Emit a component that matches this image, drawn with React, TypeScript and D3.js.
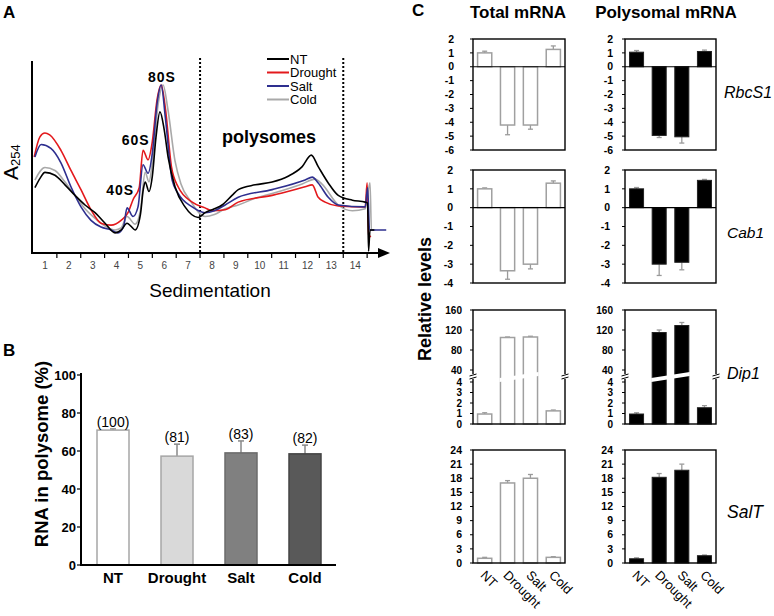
import React from 'react';
import * as d3 from 'd3';

type Pt = [number, number];

// ---------- Panel A data (fraction number, absorbance in arbitrary units) ----------
const fractionLabels = ['1', '2', '3', '4', '5', '6', '7', '8', '9', '10', '11', '12', '13', '14'];
const dottedFractions = [7, 13];

const traceNT: Pt[] = [
  [0.08, 34], [0.3, 39], [0.5, 42], [0.92, 40.5], [1.34, 35.5], [1.76, 30], [2.18, 25], [2.6, 21], [3.02, 15.5],
  [3.44, 10.5], [3.7, 12], [3.94, 15.5], [4.1, 14], [4.28, 12], [4.5, 20], [4.62, 33], [4.7, 37], [4.86, 32],
  [5.0, 40], [5.15, 60], [5.32, 73.5], [5.5, 64], [5.66, 50], [5.95, 34.5], [6.37, 24], [6.92, 18.5], [7.21, 21],
  [7.6, 23], [7.92, 25], [8.34, 30], [8.6, 33], [9.31, 35.5], [10.02, 37], [10.69, 40], [11.28, 45], [11.66, 51],
  [11.95, 45], [12.37, 36.5], [12.79, 30], [13.38, 27.5], [13.92, 26.5], [14.02, 26], [14.06, 1], [14.12, 12], [14.3, 12],
];
const traceDrought: Pt[] = [
  [0.05, 50], [0.29, 60.5], [0.5, 62.5], [0.7, 61.5], [1.17, 53.5], [1.59, 43], [2.01, 33], [2.43, 22.5], [2.85, 15.5],
  [3.27, 14.5], [3.69, 17], [3.98, 21], [4.2, 28], [4.45, 34], [4.61, 53.5], [4.82, 48.5], [5.0, 58], [5.2, 80],
  [5.37, 87.5], [5.55, 75], [5.8, 45], [6.08, 34.5], [6.67, 26.5], [7.21, 23.5], [7.5, 22], [8.05, 22.5], [8.6, 26.5],
  [10.02, 30], [11.4, 34.5], [11.7, 35.5], [11.95, 29], [12.24, 26.5], [12.79, 24.5], [13.92, 24], [14.0, 36.5],
  [14.06, 8], [14.15, 9],
];
const traceSalt: Pt[] = [
  [0.08, 50], [0.34, 56.5], [0.75, 54.5], [1.17, 47], [1.59, 34.5], [2.01, 24], [2.43, 17], [2.85, 13.5], [3.27, 12],
  [3.56, 10.5], [3.8, 14], [3.94, 23.5], [4.19, 19], [4.4, 24], [4.61, 46], [4.82, 41.5], [5.0, 52], [5.2, 78],
  [5.37, 87.5], [5.55, 70], [5.83, 38], [6.08, 31], [6.67, 24], [7.21, 21], [7.6, 22], [8.05, 25], [8.6, 29],
  [10.02, 33], [11.4, 38], [11.7, 39.5], [11.95, 36.5], [12.37, 29], [12.79, 25], [13.92, 24], [14.02, 34],
  [14.1, 12], [14.8, 12],
];
const traceCold: Pt[] = [
  [0.08, 38], [0.5, 44.5], [0.92, 43], [1.34, 37], [1.76, 30], [2.18, 23], [2.6, 18], [3.02, 14], [3.44, 12],
  [3.69, 13], [3.94, 19], [4.28, 15], [4.5, 22], [4.7, 42], [4.86, 37], [5.0, 47], [5.25, 78], [5.45, 87.5],
  [5.65, 75], [5.95, 48], [6.2, 36], [6.6, 27], [7.21, 19], [7.6, 20], [8.05, 23], [8.6, 25], [9.31, 28.5],
  [10.02, 31], [11.28, 36], [11.82, 38.5], [12.1, 36], [12.79, 25], [13.38, 22], [13.92, 23], [14.12, 36.5],
  [14.18, 12], [14.35, 12],
];
const legendNames = ['NT', 'Drought', 'Salt', 'Cold'];
const traceColors = ['#000000', '#e3191c', '#2e2f8f', '#a9a9a9'];
const peakLabels = ['40S', '60S', '80S'];
const peakPositions: Pt[] = [[3.65, 30], [4.3, 56], [5.4, 89]];

// ---------- Panel B data ----------
const conditions = ['NT', 'Drought', 'Salt', 'Cold'];
const polysomePct = [71, 57.3, 59, 58.5];
const polysomeErr = [0.6, 6.3, 6.3, 4.6];
const polysomeRel = ['(100)', '(81)', '(83)', '(82)'];
const pctTicks = [0, 20, 40, 60, 80, 100];
const barFillsB = ['#ffffff', '#d9d9d9', '#808080', '#595959'];
const barStrokesB = ['#a6a6a6', '#a6a6a6', '#6b6b6b', '#444444'];

// ---------- Panel C data ----------
const genes = ['RbcS1', 'Cab1', 'Dip1', 'SalT'];

const rbcsTotal = [1.0, -4.2, -4.2, 1.25];
const rbcsTotalErr = [0.12, 0.7, 0.3, 0.25];
const rbcsPoly = [1.05, -4.95, -5.05, 1.1];
const rbcsPolyErr = [0.12, 0.15, 0.45, 0.1];
const rbcsTicks = [2, 1, 0, -1, -2, -3, -4, -5, -6];

const cabTotal = [1.0, -3.35, -3.0, 1.3];
const cabTotalErr = [0.05, 0.45, 0.25, 0.12];
const cabPoly = [1.0, -3.0, -2.9, 1.45];
const cabPolyErr = [0.07, 0.6, 0.4, 0.05];
const cabTicks = [2, 1, 0, -1, -2, -3, -4];

const dipTotal = [0.95, 105, 106, 1.25];
const dipTotalErr = [0.12, 1.0, 1.5, 0.08];
const dipPoly = [0.95, 115, 129, 1.55];
const dipPolyErr = [0.12, 5, 6, 0.2];
const dipTicks = [160, 120, 80, 40, 4, 3, 2, 1, 0];

const saltTotal = [1.0, 17.0, 18.0, 1.2];
const saltTotalErr = [0.2, 0.5, 0.8, 0.15];
const saltPoly = [0.9, 18.2, 19.7, 1.55];
const saltPolyErr = [0.2, 0.8, 1.3, 0.15];
const saltTicks = [24, 21, 18, 15, 12, 9, 6, 3, 0];

const FONT = 'Arial, "Liberation Sans", sans-serif';

function PanelA() {
  const x = d3.scaleLinear().domain([0, 15]).range([33, 391]);
  const y = d3.scaleLinear().domain([0, 100]).range([253, 61]);
  const line = d3.line<Pt>().x(d => x(d[0])).y(d => y(d[1])).curve(d3.curveMonotoneX);
  const traces = [traceNT, traceDrought, traceSalt, traceCold];
  const drawOrder = [3, 1, 2, 0];
  const legY = [59, 72.5, 86, 99.5];
  return (
    <g fontFamily={FONT}>
      <text x={3} y={18} fontSize={17} fontWeight="bold">A</text>
      {dottedFractions.map(f => (
        <line key={f} x1={x(f)} x2={x(f)} y1={58} y2={253} stroke="#000" strokeWidth={2} strokeDasharray="2,2" />
      ))}
      {drawOrder.map(i => (
        <path key={i} d={line(traces[i]) || ''} fill="none" stroke={traceColors[i]} strokeWidth={1.6} strokeLinejoin="round" />
      ))}
      <line x1={32} x2={32} y1={61} y2={254} stroke="#000" strokeWidth={2} />
      <line x1={31} x2={380} y1={253} y2={253} stroke="#000" strokeWidth={2} />
      <path d="M378,248 L390,253 L378,258 Z" fill="#000" />
      {fractionLabels.map((l, i) => (
        <g key={l}>
          <line x1={x(i + 1)} x2={x(i + 1)} y1={253} y2={258} stroke="#000" strokeWidth={1.2} />
          <text x={x(i + 0.5)} y={269} fontSize={10} fill="#444" textAnchor="middle">{l}</text>
        </g>
      ))}
      <text x={210} y={297} fontSize={19} textAnchor="middle">Sedimentation</text>
      <text transform="translate(18,180) rotate(-90)" fontSize={21}>
        A<tspan fontSize={13} dy={2}>254</tspan>
      </text>
      {peakLabels.map((l, i) => (
        <text key={l} x={x(peakPositions[i][0])} y={y(peakPositions[i][1])} fontSize={14} fontWeight="bold" textAnchor="middle" letterSpacing={1}>{l}</text>
      ))}
      <text x={269} y={143} fontSize={18} fontWeight="bold" textAnchor="middle">polysomes</text>
      {legendNames.map((n, i) => (
        <g key={n}>
          <line x1={267} x2={289} y1={legY[i]} y2={legY[i]} stroke={traceColors[i]} strokeWidth={2} />
          <text x={290} y={legY[i]} dy="0.35em" fontSize={13}>{n}</text>
        </g>
      ))}
    </g>
  );
}

function PanelB() {
  const x = d3.scaleBand<string>().domain(conditions).range([81, 337]).paddingInner(0.5).paddingOuter(0.25);
  const y = d3.scaleLinear().domain([0, 100]).range([565, 375]);
  const bw = x.bandwidth();
  return (
    <g fontFamily={FONT}>
      <text x={3} y={356} fontSize={17} fontWeight="bold">B</text>
      {conditions.map((c, i) => {
        const x0 = x(c) as number;
        const cx = x0 + bw / 2;
        const top = y(polysomePct[i] + polysomeErr[i]);
        return (
          <g key={c}>
            <line x1={cx} x2={cx} y1={y(polysomePct[i])} y2={top} stroke="#888" strokeWidth={1.5} />
            <line x1={cx - 3} x2={cx + 3} y1={top} y2={top} stroke="#888" strokeWidth={1.5} />
            <rect x={x0} y={y(polysomePct[i])} width={bw} height={y(0) - y(polysomePct[i])} fill={barFillsB[i]} stroke={barStrokesB[i]} strokeWidth={1.5} />
            <text x={cx} y={top - 2} fontSize={14} textAnchor="middle">{polysomeRel[i]}</text>
            <text x={cx} y={583} fontSize={15} fontWeight="bold" textAnchor="middle">{c}</text>
          </g>
        );
      })}
      <line x1={81} x2={81} y1={373} y2={566} stroke="#000" strokeWidth={2} />
      <line x1={80} x2={336} y1={565} y2={565} stroke="#000" strokeWidth={2} />
      {pctTicks.map(t => (
        <g key={t}>
          <line x1={77} x2={81} y1={y(t)} y2={y(t)} stroke="#000" strokeWidth={1.2} />
          <text x={76} y={y(t)} dy="0.35em" fontSize={13} fontWeight="bold" textAnchor="end">{t}</text>
        </g>
      ))}
      <text transform="translate(48,454) rotate(-90)" fontSize={18.5} fontWeight="bold" textAnchor="middle">RNA in polysome (%)</text>
    </g>
  );
}

type Row = {
  gene: string;
  total: number[]; totalErr: number[]; poly: number[]; polyErr: number[];
  ticks: number[]; top: number; bottom: number; broken: boolean;
  labelEndT: number; labelEndP: number; geneX: number; geneY: number; geneSize: number;
};

function GenePlot({ row, vals, errs, left, right, labelEnd, filled }: { row: Row; vals: number[]; errs: number[]; left: number; right: number; labelEnd: number; filled: boolean }) {
  const x = d3.scaleBand<string>().domain(conditions).range([left, right]).paddingInner(0.38).paddingOuter(0.2);
  const y = row.broken
    ? d3.scaleLinear().domain([0, 4, 40, 160]).range([row.bottom, row.bottom - 42, row.bottom - 54, row.top])
    : d3.scaleLinear().domain([d3.min(row.ticks) as number, d3.max(row.ticks) as number]).range([row.bottom, row.top]);
  const bw = x.bandwidth();
  const y0 = y(0);
  const errColor = '#9a9a9a';
  const bx1 = (x(conditions[1]) as number) - 1;
  const bx2 = (x(conditions[2]) as number) + bw + 1;
  const by = row.bottom - 46;
  const fs = row.broken ? 10 : 10.5;
  return (
    <g>
      {vals.map((v, i) => {
        const x0 = x(conditions[i]) as number;
        const cx = x0 + bw / 2;
        const s = v >= 0 ? 1 : -1;
        const ye = y(v + s * errs[i]);
        return (
          <g key={i}>
            <line x1={cx} x2={cx} y1={y(v)} y2={ye} stroke={errColor} strokeWidth={1.3} />
            <line x1={cx - 2.5} x2={cx + 2.5} y1={ye} y2={ye} stroke={errColor} strokeWidth={1.3} />
            <rect x={x0} y={Math.min(y(v), y0)} width={bw} height={Math.abs(y(v) - y0)}
              fill={filled ? '#000' : '#fff'} stroke={filled ? '#222' : '#a0a0a0'} strokeWidth={filled ? 1 : 1.5} />
          </g>
        );
      })}
      {row.broken && (
        <polygon points={`${bx1},${by + 4} ${bx2},${by - 2} ${bx2},${by - 6} ${bx1},${by}`} fill="#fff" />
      )}
      {!row.broken && y0 < row.bottom - 1 && (
        <line x1={left} x2={right} y1={y0} y2={y0} stroke="#000" strokeWidth={1.2} />
      )}
      <rect x={left} y={row.top} width={right - left} height={row.bottom - row.top} fill="none" stroke="#000" strokeWidth={1.4} />
      {row.broken && [left, right].map(bxp => (
        <g key={bxp}>
          <rect x={bxp - 4} y={by - 4} width={8} height={5} fill="#fff" />
          <line x1={bxp - 3.5} x2={bxp + 3.5} y1={by - 2} y2={by - 4} stroke="#000" strokeWidth={1} />
          <line x1={bxp - 3.5} x2={bxp + 3.5} y1={by + 1} y2={by - 1} stroke="#000" strokeWidth={1} />
        </g>
      ))}
      {row.ticks.map(t => (
        <g key={t}>
          <line x1={left - 3} x2={left} y1={y(t)} y2={y(t)} stroke="#000" strokeWidth={1} />
          <text x={labelEnd} y={y(t)} dy="0.35em" fontSize={fs} fontWeight="bold" textAnchor="end">{t}</text>
        </g>
      ))}
      {row.gene === 'SalT' && conditions.map(c => (
        <text key={c} transform={`translate(${(x(c) as number) + bw / 2 - 5},576) rotate(45)`} fontSize={13}>{c}</text>
      ))}
    </g>
  );
}

function PanelC() {
  const rows: Row[] = [
    { gene: genes[0], total: rbcsTotal, totalErr: rbcsTotalErr, poly: rbcsPoly, polyErr: rbcsPolyErr, ticks: rbcsTicks, top: 39, bottom: 150, broken: false, labelEndT: 454, labelEndP: 613, geneX: 724, geneY: 98, geneSize: 16 },
    { gene: genes[1], total: cabTotal, totalErr: cabTotalErr, poly: cabPoly, polyErr: cabPolyErr, ticks: cabTicks, top: 170, bottom: 283, broken: false, labelEndT: 453, labelEndP: 610, geneX: 727, geneY: 238, geneSize: 15.5 },
    { gene: genes[2], total: dipTotal, totalErr: dipTotalErr, poly: dipPoly, polyErr: dipPolyErr, ticks: dipTicks, top: 310, bottom: 424, broken: true, labelEndT: 462, labelEndP: 613, geneX: 727, geneY: 379, geneSize: 16 },
    { gene: genes[3], total: saltTotal, totalErr: saltTotalErr, poly: saltPoly, polyErr: saltPolyErr, ticks: saltTicks, top: 450, bottom: 563, broken: false, labelEndT: 462, labelEndP: 613, geneX: 727, geneY: 518, geneSize: 17.5 },
  ];
  return (
    <g fontFamily={FONT}>
      <text x={412} y={16} fontSize={17} fontWeight="bold">C</text>
      <text x={518} y={18} fontSize={17} fontWeight="bold" textAnchor="middle">Total mRNA</text>
      <text x={666} y={18} fontSize={17} fontWeight="bold" textAnchor="middle">Polysomal mRNA</text>
      <text transform="translate(431,299) rotate(-90)" fontSize={18} fontWeight="bold" textAnchor="middle">Relative levels</text>
      {rows.map(r => (
        <g key={r.gene}>
          <GenePlot row={r} vals={r.total} errs={r.totalErr} left={473} right={565} labelEnd={r.labelEndT} filled={false} />
          <GenePlot row={r} vals={r.poly} errs={r.polyErr} left={625} right={716} labelEnd={r.labelEndP} filled={true} />
          <text x={r.geneX} y={r.geneY} fontSize={r.geneSize} fontStyle="italic">{r.gene}</text>
        </g>
      ))}
    </g>
  );
}

export default function App() {
  return (
    <svg width={774} height={616} viewBox="0 0 774 616" style={{ position: 'absolute', left: 0, top: 0, background: '#fff' }}>
      <rect width={774} height={616} fill="#fff" />
      <PanelA />
      <PanelB />
      <PanelC />
    </svg>
  );
}
